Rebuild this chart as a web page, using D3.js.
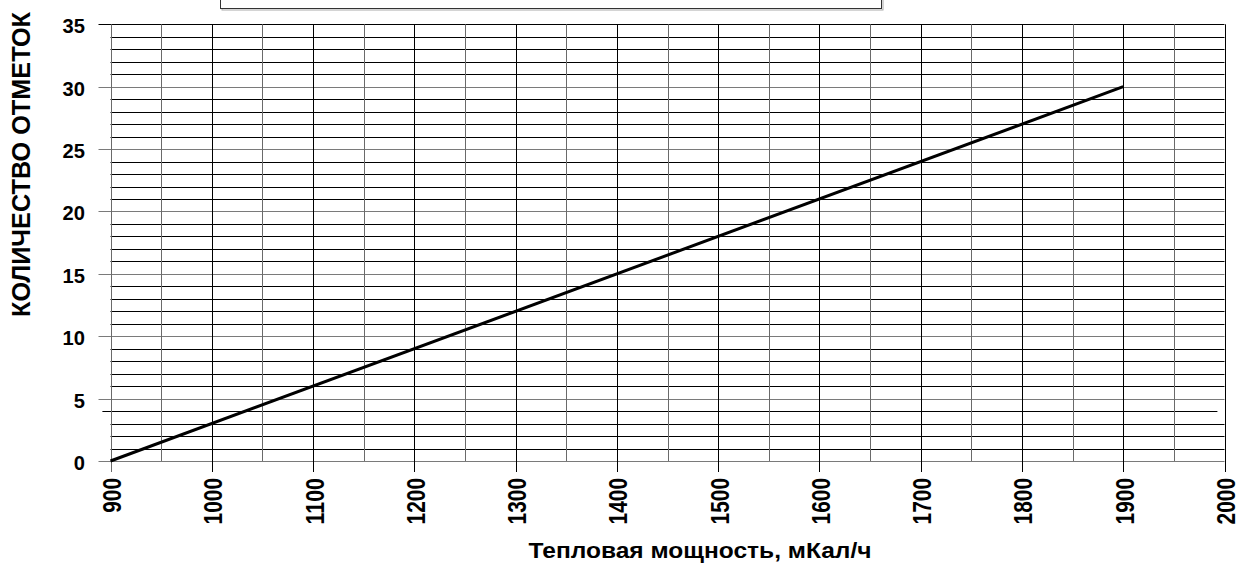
<!DOCTYPE html>
<html>
<head>
<meta charset="utf-8">
<script src="https://cdn.jsdelivr.net/npm/d3@7"></script>
<style>
  html, body { margin: 0; padding: 0; background: #fff; }
  svg { display: block; }
  text { font-family: "Liberation Sans", Arial, sans-serif; font-weight: bold; fill: #000; }
</style>
</head>
<body>
<svg id="chart" width="1246" height="564"></svg>
<script>
// ---- data ----
const lineX = [900, 1900];          // Тепловая мощность, мКал/ч
const lineY = [0, 30];              // количество отметок
const xTicks = [900, 1000, 1100, 1200, 1300, 1400, 1500, 1600, 1700, 1800, 1900, 2000];
const yTicks = [0, 5, 10, 15, 20, 25, 30, 35];
const xGrid = d3.range(900, 2001, 50);
const yGrid = d3.range(0, 36, 1);
const xTitle = "Тепловая мощность, мКал/ч";
const yTitle = "КОЛИЧЕСТВО ОТМЕТОК";

// ---- layout ----
const svg = d3.select("#chart");
const x = d3.scaleLinear().domain([900, 2000]).range([110.5, 1224.5]);
const y = d3.scaleLinear().domain([0, 35]).range([461, 24.3]);

// legend box (mostly clipped above the chart)
svg.append("rect").attr("x", 222).attr("y", -12).attr("width", 661).attr("height", 22)
  .attr("fill", "none").attr("stroke", "#aaa").attr("stroke-width", 1);
svg.append("rect").attr("x", 220.5).attr("y", -12).attr("width", 661).attr("height", 20.5)
  .attr("fill", "#fff").attr("stroke", "#333").attr("stroke-width", 1);

const grid = svg.append("g");
// horizontal grid lines
grid.selectAll("line.h").data(yGrid).join("line")
  .attr("class", "h")
  .attr("x1", d => d % 5 === 0 ? x(900) - 12 : (d === 4 ? x(892) : x(900)))
  .attr("x2", d => d === 4 ? x(1993) : x(2000))
  .attr("y1", d => Math.round(y(d)) + 0.5)
  .attr("y2", d => Math.round(y(d)) + 0.5)
  .attr("stroke", d => (d % 5 === 0 && d !== 35) ? "#7a7a7a" : "#000")
  .attr("stroke-width", 1);

// vertical grid lines
grid.selectAll("line.v").data(xGrid).join("line")
  .attr("class", "v")
  .attr("x1", d => Math.round(x(d)) + 0.5)
  .attr("x2", d => Math.round(x(d)) + 0.5)
  .attr("y1", y(35))
  .attr("y2", d => d % 100 === 0 ? y(0) + 11 : y(0))
  .attr("stroke", d => (d % 100 === 0 && d !== 900) ? "#000" : "#6a6a6a")
  .attr("stroke-width", 1);

// data line
svg.append("path")
  .datum(lineX.map((v, i) => [v, lineY[i]]))
  .attr("d", d3.line().x(d => x(d[0])).y(d => y(d[1])))
  .attr("fill", "none").attr("stroke", "#000").attr("stroke-width", 3);

// y tick labels
svg.append("g").selectAll("text").data(yTicks).join("text")
  .attr("x", 85).attr("y", d => y(d) + 9)
  .attr("text-anchor", "end")
  .attr("font-size", 21)
  .attr("textLength", d => String(d).length * 11.2)
  .attr("lengthAdjust", "spacingAndGlyphs")
  .text(d => d);

// x tick labels (rotated)
svg.append("g").selectAll("text").data(xTicks).join("text")
  .attr("transform", d => `translate(${x(d) + 10.5},478) rotate(-90)`)
  .attr("text-anchor", "end")
  .attr("font-size", 26)
  .attr("textLength", d => String(d).length * 11.6)
  .attr("lengthAdjust", "spacingAndGlyphs")
  .text(d => d);

// axis titles
svg.append("text")
  .attr("x", 700).attr("y", 558)
  .attr("text-anchor", "middle")
  .attr("font-size", 22)
  .attr("textLength", 343).attr("lengthAdjust", "spacingAndGlyphs")
  .text(xTitle);

svg.append("text")
  .attr("transform", "translate(30,164.5) rotate(-90)")
  .attr("text-anchor", "middle")
  .attr("font-size", 26)
  .attr("textLength", 305).attr("lengthAdjust", "spacingAndGlyphs")
  .text(yTitle);
</script>
</body>
</html>
